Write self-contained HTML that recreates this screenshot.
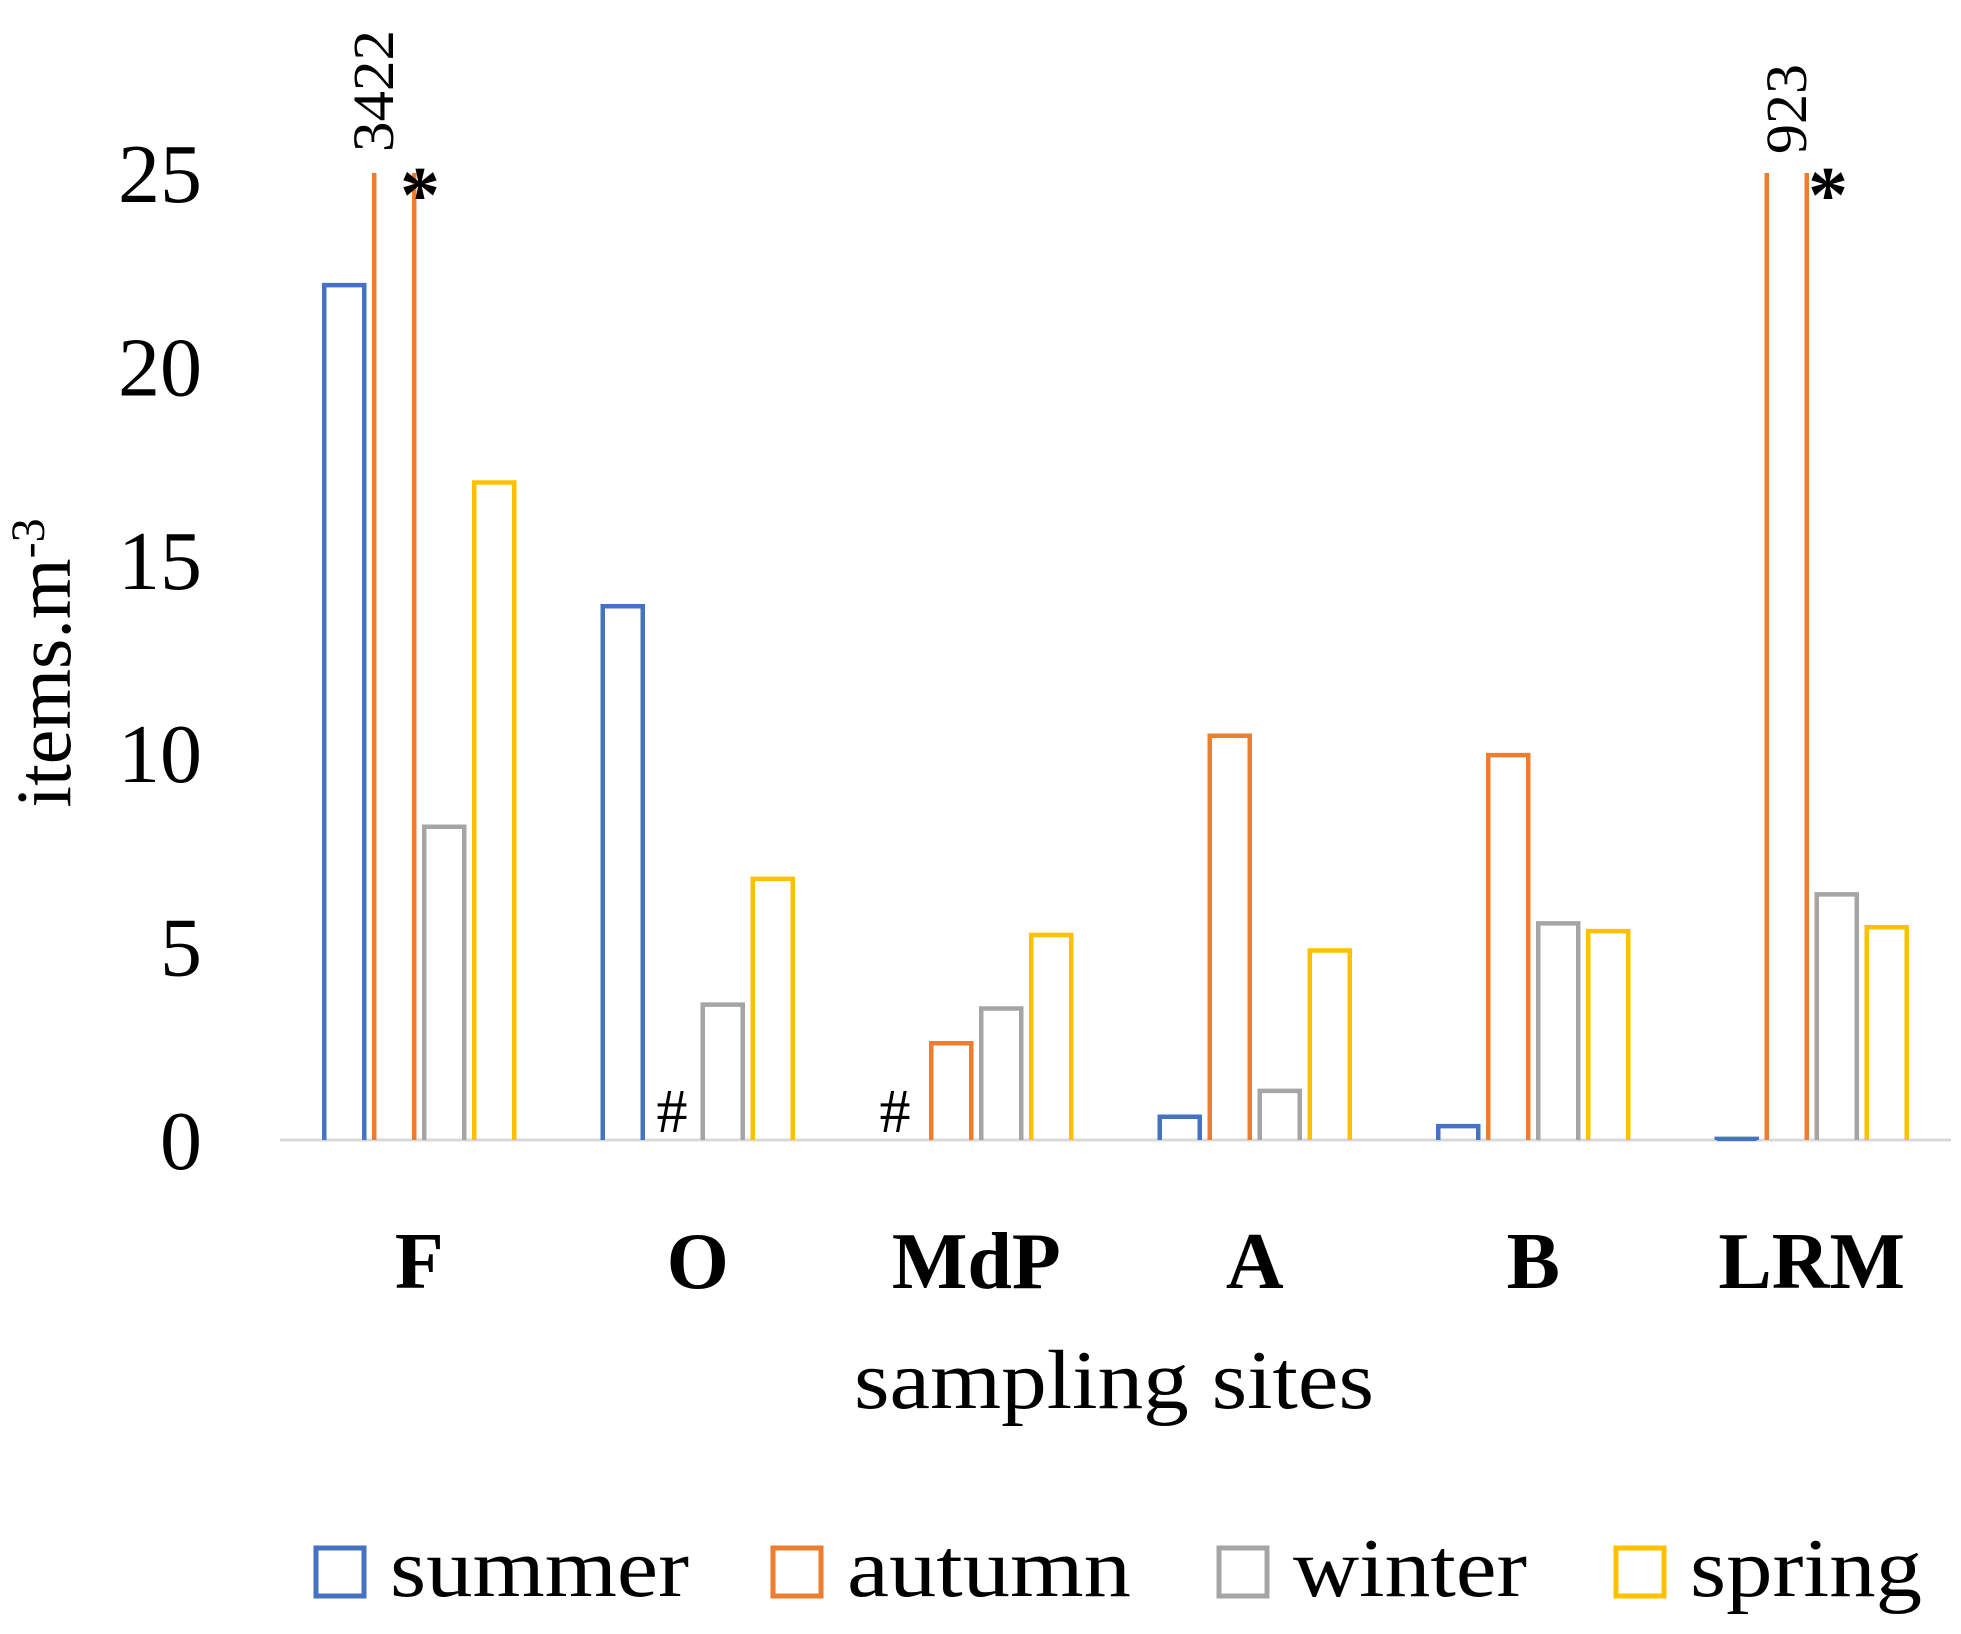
<!DOCTYPE html>
<html><head><meta charset="utf-8"><style>
html,body{margin:0;padding:0;background:#fff}
svg{display:block}
text{font-family:"Liberation Serif",serif;fill:#000}
</style></head><body>
<svg id="chart" width="1961" height="1634" viewBox="0 0 1961 1634">
<line x1="280" y1="1140" x2="1951" y2="1140" stroke="#d9d9d9" stroke-width="3"/>
<g id="yticks"></g>
<g id="bars"></g>
<g id="xlabels"></g>
<text x="70" y="663" font-size="78" text-anchor="middle" transform="rotate(-90 70 663)">items.m<tspan font-size="48" dy="-26">-3</tspan></text>
<text x="1114" y="1408" font-size="84" text-anchor="middle" textLength="520" lengthAdjust="spacingAndGlyphs">sampling sites</text>
<text x="393" y="152" font-size="58" transform="rotate(-90 393 152)" textLength="122" lengthAdjust="spacingAndGlyphs">3422</text>
<text x="420" y="222" font-size="80" text-anchor="middle" font-weight="bold">*</text>
<text x="1806" y="154" font-size="58" transform="rotate(-90 1806 154)" textLength="90" lengthAdjust="spacingAndGlyphs">923</text>
<text x="1828" y="222" font-size="80" text-anchor="middle" font-weight="bold">*</text>
<text x="672" y="1132" font-size="62" text-anchor="middle">#</text>
<text x="895" y="1132" font-size="62" text-anchor="middle">#</text>
<g id="legend"></g>
</svg>
<script>
const categories = ["F","O","MdP","A","B","LRM"];
const seriesNames = ["summer","autumn","winter","spring"];
const summer = [22.1, 13.8, 0, 0.6, 0.36, 0.03];
const autumn = [3422, 0, 2.5, 10.45, 9.95, 923];
const winter = [8.1, 3.5, 3.4, 1.27, 5.6, 6.35];
const spring = [17.0, 6.75, 5.3, 4.9, 5.4, 5.5];
const yTicks = [0,5,10,15,20,25];
const colors = ["#4472C4","#ED7D31","#A5A5A5","#FFC000"];
const NS="http://www.w3.org/2000/svg";
const yMax=25, y0=1140, yTop=173, xL=280, xR=1951;
const y = v => y0 - (Math.min(v,yMax)/yMax)*(y0-yTop);
const band=(xR-xL)/categories.length;
const xc = i => xL + band*(i+0.5);
const slot=50, bw=40;
const yt=document.getElementById('yticks');
yTicks.forEach(t=>{
  const e=document.createElementNS(NS,'text');
  e.setAttribute('x',202);e.setAttribute('y',y(t)+29);
  e.setAttribute('font-size','84');e.setAttribute('text-anchor','end');
  e.textContent=t;
  
  
  yt.appendChild(e);
});
const bg=document.getElementById('bars');
[summer,autumn,winter,spring].forEach((ser,s)=>{
  ser.forEach((v,i)=>{
    if(v<=0) return;
    const x=xc(i)+(s-1.5)*slot-bw/2;
    const top=y(v);
    const el=document.createElementNS(NS,'path');
    if(v>yMax){
      el.setAttribute('d',`M${x} ${y0} V${top} M${x+bw} ${top} V${y0}`);
    } else {
      el.setAttribute('d',`M${x} ${y0} V${top} H${x+bw} V${y0}`);
    }
    el.setAttribute('fill','none');el.setAttribute('stroke',colors[s]);el.setAttribute('stroke-width','4.5');
    
    
    bg.appendChild(el);
  });
});
const xg=document.getElementById('xlabels');
categories.forEach((c,i)=>{
  const e=document.createElementNS(NS,'text');
  e.setAttribute('x',xc(i));e.setAttribute('y',1288);
  e.setAttribute('font-size','80');e.setAttribute('font-weight','bold');e.setAttribute('text-anchor','middle');
  e.textContent=c;
  
  
  xg.appendChild(e);
});
const lg=document.getElementById('legend');
const lx=[316,773,1219,1616];
const lw=[299,284,234,232];
seriesNames.forEach((n,s)=>{
  const r=document.createElementNS(NS,'rect');
  r.setAttribute('x',lx[s]);r.setAttribute('y',1548);r.setAttribute('width',48);r.setAttribute('height',48);
  r.setAttribute('fill','none');r.setAttribute('stroke',colors[s]);r.setAttribute('stroke-width','5');
  
  
  lg.appendChild(r);
  const t=document.createElementNS(NS,'text');
  t.setAttribute('x',lx[s]+74);t.setAttribute('y',1596);t.setAttribute('font-size','84');
  t.setAttribute('textLength',lw[s]);t.setAttribute('lengthAdjust','spacingAndGlyphs');
  t.textContent=n;
  
  
  lg.appendChild(t);
});
</script>
</body></html>
